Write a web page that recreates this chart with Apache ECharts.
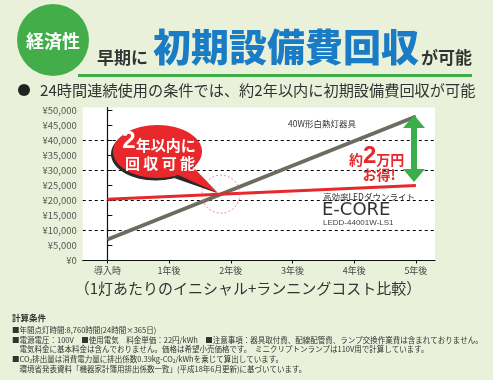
<!DOCTYPE html>
<html><head><meta charset="utf-8">
<script src="https://cdn.jsdelivr.net/npm/echarts@6/dist/echarts.min.js"></script>
<style>html,body{margin:0;padding:0;background:#e9f1da;}#c{width:493px;height:380px;}</style>
</head><body><div id="c"></div>
<script>
// ---- data ----
const categories = ['導入時', '1年後', '2年後', '3年後', '4年後', '5年後'];
const categoryPos = [0, 1, 2, 3, 4, 5];
const yTicks = [0, 5000, 10000, 15000, 20000, 25000, 30000, 35000, 40000, 45000, 50000];
const gridLines = [10000, 20000, 30000, 40000];
const incandescentCost = [[0, 7000], [5, 48000]];   // 40W形白熱灯器具
const ledCost = [[0, 20400], [5, 25000]];           // 高効率LEDダウンライト E-CORE
const breakEvenPoint = [[1.84, 22100]];

const X_MIN = -0.4, X_MAX = 5.31, Y_MIN = 0, Y_MAX = 51000;
const JP = '"Noto Sans CJK JP", "Noto Sans", sans-serif';
const chart = echarts.init(document.getElementById('c'), null, {renderer: 'canvas'});

const notes = [
  '■年間点灯時間:8,760時間(24時間×365日)',
  '■電源電圧：100V　■使用電気　料金単価：22円/kWh　■注意事項：器具取付費、配線配管費、ランプ交換作業費は含まれておりません。',
  '　電気料金に基本料金は含んでおりません。価格は希望小売価格です。　ミニクリプトンランプは110V用で計算しています。',
  '■CO₂排出量は消費電力量に排出係数0.39kg-CO₂/kWhを乗じて算出しています。',
  '　環境省発表資料「機器家計簿用排出係数一覧」(平成18年6月更新)に基づいています。'
];

const G = {left: 82.7, right: 58, top: 107.5, bottom: 119.5};

const graphics = [
  // header
  {type:'line', shape:{x1:78, y1:75.5, x2:472, y2:75.5}, style:{stroke:'#3fae49', lineWidth:3}},
  {type:'circle', shape:{cx:53, cy:40, r:36}, style:{fill:'#43ad4a'}},
  {type:'text', x:53, y:41, style:{text:'経済性', font:'bold 18px ' + JP, fill:'#fff', align:'center', verticalAlign:'middle'}},
  {type:'text', x:97, y:58, style:{text:'早期に', font:'bold 17px ' + JP, fill:'#333', align:'left', verticalAlign:'middle'}},
  {type:'text', x:153, y:47, style:{text:'初期設備費回収', font:'900 38px ' + JP, fill:'#1a7cc5', align:'left', verticalAlign:'middle'}},
  {type:'text', x:421, y:58, style:{text:'が可能', font:'bold 17px ' + JP, fill:'#333', align:'left', verticalAlign:'middle'}},
  {type:'circle', shape:{cx:24, cy:90, r:6}, style:{fill:'#222'}},
  {type:'text', x:40, y:90, style:{text:'24時間連続使用の条件では、約2年以内に初期設備費回収が可能', font:'15.2px ' + JP, fill:'#333', align:'left', verticalAlign:'middle'}},
  // caption
  {type:'text', x:248, y:288, style:{text:'（1灯あたりのイニシャル+ランニングコスト比較）', font:'15px ' + JP, fill:'#333', align:'center', verticalAlign:'middle'}},
  // notes
  {type:'text', x:12, y:318, style:{text:'計算条件', font:'bold 8.5px ' + JP, fill:'#333', align:'left', verticalAlign:'middle'}},
  // chart annotations
  {type:'text', x:322, y:124, z:10, style:{text:'40W形白熱灯器具', font:'8.5px ' + JP, fill:'#333', align:'center', verticalAlign:'middle'}},
  {type:'text', x:323, y:196.5, z:10, style:{text:'高効率LEDダウンライト', font:'8.5px ' + JP, fill:'#333', align:'left', verticalAlign:'middle'}},
  {type:'text', x:322, y:210, z:10, style:{text:'E-CORE', font:'18px "DejaVu Sans", sans-serif', fill:'#333', align:'left', verticalAlign:'middle'}},
  {type:'text', x:323, y:223, z:10, style:{text:'LEDD-44001W-LS1', font:'8px "Liberation Sans", sans-serif', fill:'#444', align:'left', verticalAlign:'middle'}},
  {type:'text', x:349, y:156, z:10, style:{text:'{a|約}{b|2}{a|万円}', align:'left', verticalAlign:'middle',
    rich:{a:{font:'bold 14px ' + JP, fill:'#e8282a', verticalAlign:'bottom', padding:[0,0,1,0]}, b:{font:'bold 24px "Liberation Sans", sans-serif', fill:'#e8282a', verticalAlign:'bottom'}}}},
  {type:'text', x:379, y:175, z:10, style:{text:'お得!', font:'bold 14px ' + JP, fill:'#e8282a', align:'center', verticalAlign:'middle'}},
  {type:'polygon', z:10, shape:{points:[[414,115],[425,128],[417,128],[417,169],[425,169],[414,182],[403,169],[411,169],[411,128],[403,128]]}, style:{fill:'#3aae4a'}},
  // speech bubble shadow
  {type:'ellipse', z:10, shape:{cx:155.5, cy:154, rx:44.5, ry:26.5}, style:{fill:'#2a2a2a'}},
  {type:'polygon', z:10, shape:{points:[[174,178],[192,171],[217,193]]}, style:{fill:'#2a2a2a'}},
  // speech bubble
  {type:'ellipse', z:11, shape:{cx:157.5, cy:151.5, rx:44.5, ry:26.5}, style:{fill:'#e8282a'}},
  {type:'polygon', z:11, shape:{points:[[176,174],[194,168],[218,193]]}, style:{fill:'#e8282a'}},
  {type:'text', x:159, y:141, z:12, style:{text:'{a|2}{b|年以内に}', align:'center', verticalAlign:'middle',
    textShadowColor:'rgba(0,0,0,0.5)', textShadowOffsetX:1, textShadowOffsetY:1,
    rich:{a:{font:'900 24px "Liberation Sans", sans-serif', fill:'#fff', verticalAlign:'bottom'}, b:{font:'bold 15px ' + JP, fill:'#fff', verticalAlign:'bottom'}}}},
  {type:'text', x:160, y:163, z:12, style:{text:'回 収 可 能', font:'bold 15px ' + JP, fill:'#fff', align:'center', verticalAlign:'middle',
    textShadowColor:'rgba(0,0,0,0.5)', textShadowOffsetX:1, textShadowOffsetY:1}}
];
notes.forEach((t, i) => {
  graphics.push({type:'text', x:12, y:330 + i * 9.8, style:{text:t, font:'7.5px ' + JP, fill:'#333', align:'left', verticalAlign:'middle'}});
});

// dashed horizontal reference lines
const gridSeries = gridLines.map(v => ({
  name: 'grid-' + v, type: 'line', data: [[X_MIN + 0.001, v], [X_MAX - 0.001, v]], symbol: 'none', z: 2,
  clip: false, showSymbol: false,
  lineStyle: {color: '#000000', width: 1, type: [3, 3]}
}));

const option = {
  animation: false,
  backgroundColor: '#e9f1da',
  textStyle: {fontFamily: JP},
  grid: {left: G.left, right: G.right, top: G.top, bottom: G.bottom, show: true, backgroundColor: '#ffffff', borderWidth: 0},
  xAxis: {
    type: 'value', min: X_MIN, max: X_MAX,
    axisLine: {show: true, lineStyle: {color: '#111', width: 1.2}},
    axisTick: {show: true, inside: false, length: 3, lineStyle: {color: '#111'}, customValues: categoryPos},
    axisLabel: {customValues: categoryPos, fontSize: 9, color: '#444', margin: 6, formatter: v => categories[Math.round(v)]},
    splitLine: {show: false}
  },
  yAxis: {
    type: 'value', min: Y_MIN, max: Y_MAX,
    axisLine: {show: true, lineStyle: {color: '#111', width: 1.2}},
    axisTick: {show: true, inside: true, length: 5, lineStyle: {color: '#111'}, customValues: yTicks},
    axisLabel: {customValues: yTicks, fontSize: 9.5, color: '#555', margin: 6, formatter: v => '¥' + v.toLocaleString('en-US')},
    splitLine: {show: false}
  },
  series: gridSeries.concat([
    {name: '40W形白熱灯器具', type: 'line', data: incandescentCost, symbol: 'none', z: 3,
     lineStyle: {color: '#6c6c60', width: 4}},
    {name: 'E-CORE', type: 'line', data: ledCost, symbol: 'none', z: 4,
     lineStyle: {color: '#e8282a', width: 3}},
    {name: 'break-even', type: 'scatter', data: breakEvenPoint, symbol: 'circle', symbolSize: 38, z: 5, silent: true,
     itemStyle: {color: 'rgba(0,0,0,0)', borderColor: '#ee6a6a', borderWidth: 1, borderType: [2, 2]}}
  ]),
  graphic: graphics
};
chart.setOption(option);
</script></body></html>
